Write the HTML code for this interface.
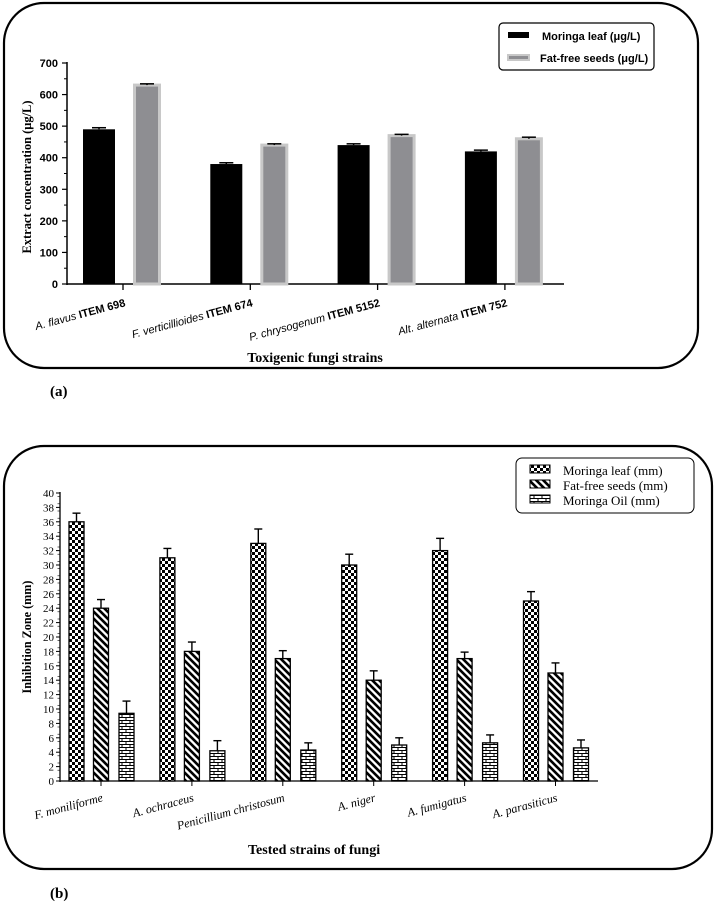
<!DOCTYPE html>
<html><head><meta charset="utf-8"><style>
body{margin:0;background:#fff}
svg{display:block}
text{font-family:"Liberation Serif",serif}
.sans{font-family:"Liberation Sans",sans-serif}
</style></head><body>
<svg id="s" width="716" height="902" viewBox="0 0 716 902">
<defs>
<pattern id="chk" width="6" height="6" patternUnits="userSpaceOnUse"><rect width="6" height="6" fill="#fff"/><rect width="3" height="3" fill="#000"/><rect x="3" y="3" width="3" height="3" fill="#000"/></pattern>
<pattern id="diag" width="7" height="7" patternUnits="userSpaceOnUse"><rect width="7" height="7" fill="#fff"/><path d="M-2,-2 L9,9 M-2,5 L2,9 M5,-2 L9,2" stroke="#000" stroke-width="2.6"/></pattern>
<pattern id="brick" width="8" height="6" patternUnits="userSpaceOnUse"><rect width="8" height="6" fill="#fff"/><path d="M0,0.5H8M0,3.5H8M2,0V3M6,3V6" stroke="#000" stroke-width="1"/></pattern>
</defs>
<rect x="4" y="3" width="694" height="365" rx="40" fill="none" stroke="#000" stroke-width="2.2"/>
<rect x="4" y="446" width="708" height="423" rx="40" fill="none" stroke="#000" stroke-width="2.2"/>
<text x="50" y="396" font-size="15" font-weight="bold">(a)</text>
<text x="50" y="898" font-size="15" font-weight="bold">(b)</text>
<g id="ga"></g><g id="gb"></g>
</svg>
<script>
const catsA=["A. flavus","F. verticillioides","P. chrysogenum","Alt. alternata"];
const itemsA=["ITEM 698","ITEM 674","ITEM 5152","ITEM 752"];
const leafA=[490,380,440,420];
const leafErrA=[5,4,4,4];
const seedA=[630,440,470,460];
const seedErrA=[4,4,4,5];
const ticksA=[0,100,200,300,400,500,600,700];

const catsB=["F. moniliforme","A. ochraceus","Penicillium christosum","A. niger","A. fumigatus","A. parasiticus"];
const leafB=[36,31,33,30,32,25];
const leafErrB=[1.2,1.3,2,1.5,1.7,1.3];
const seedB=[24,18,17,14,17,15];
const seedErrB=[1.2,1.3,1.1,1.3,0.9,1.4];
const oilB=[9.4,4.2,4.3,5,5.3,4.6];
const oilErrB=[1.7,1.4,1.0,1.0,1.1,1.1];
const ticksB=[0,2,4,6,8,10,12,14,16,18,20,22,24,26,28,30,32,34,36,38,40];

const NS="http://www.w3.org/2000/svg";
function mk(p,t,a,txt){const e=document.createElementNS(NS,t);for(const k in a)e.setAttribute(k,a[k]);if(txt!==undefined)e.textContent=txt;p.appendChild(e);return e;}

// Panel A
const ga=document.getElementById('ga');
const yA=v=>284-v*(221/700);
const xA=i=>123+i*127.3;
let el;
el=mk(ga,'line',{x1:67,y1:62,x2:67,y2:285,stroke:'#000','stroke-width':1.5});

el=mk(ga,'line',{x1:67,y1:284,x2:564,y2:284,stroke:'#000','stroke-width':1.5});

for(let k=0;k<ticksA.length;k++){const v=ticksA[k];
 mk(ga,'line',{x1:62,y1:yA(v),x2:67,y2:yA(v),stroke:'#000','stroke-width':1.2});
 if(k<ticksA.length-1)mk(ga,'line',{x1:64,y1:yA(v+50),x2:67,y2:yA(v+50),stroke:'#000','stroke-width':1});
 el=mk(ga,'text',{x:58,y:yA(v)+4,'font-size':11,'text-anchor':'end','font-weight':'bold',class:'sans'},String(v));
 }
for(let i=0;i<catsA.length;i++){const c=xA(i);
 mk(ga,'line',{x1:c,y1:284,x2:c,y2:290,stroke:'#000','stroke-width':1.3});
 el=mk(ga,'rect',{x:c-40,y:yA(leafA[i]),width:32,height:284-yA(leafA[i]),fill:'#000'});
 
 mk(ga,'line',{x1:c-24,y1:yA(leafA[i]),x2:c-24,y2:yA(leafA[i]+leafErrA[i]),stroke:'#000','stroke-width':1.5});
 mk(ga,'line',{x1:c-31,y1:yA(leafA[i]+leafErrA[i]),x2:c-17,y2:yA(leafA[i]+leafErrA[i]),stroke:'#000','stroke-width':1.5});
 el=mk(ga,'rect',{x:c+11.5,y:yA(seedA[i]),width:25,height:284-yA(seedA[i]),fill:'#8e8e92',stroke:'#c8c8c8','stroke-width':3});
 
 mk(ga,'line',{x1:c+24,y1:yA(seedA[i]),x2:c+24,y2:yA(seedA[i]+seedErrA[i]),stroke:'#000','stroke-width':1.5});
 mk(ga,'line',{x1:c+17,y1:yA(seedA[i]+seedErrA[i]),x2:c+31,y2:yA(seedA[i]+seedErrA[i]),stroke:'#000','stroke-width':1.5});
 const t=mk(ga,'text',{transform:`translate(${c+3},${306}) rotate(-15)`,'font-size':11,'text-anchor':'end',class:'sans'});
 
 mk(t,'tspan',{'font-style':'italic'},catsA[i]+' ');mk(t,'tspan',{'font-weight':'bold'},itemsA[i]);}
el=mk(ga,'text',{transform:'translate(31,177) rotate(-90)','font-size':13,'font-weight':'bold','text-anchor':'middle',textLength:153,lengthAdjust:'spacingAndGlyphs'},'Extract concentration (μg/L)');

el=mk(ga,'text',{x:315,y:362,'font-size':14,'font-weight':'bold','text-anchor':'middle'},'Toxigenic fungi strains');

el=mk(ga,'rect',{x:499,y:23,width:155,height:47,rx:4,fill:'#fff',stroke:'#000','stroke-width':1.2});

mk(ga,'rect',{x:508,y:32,width:21,height:6,fill:'#000'});
mk(ga,'rect',{x:508,y:55,width:21,height:5,fill:'#8e8e92',stroke:'#c8c8c8','stroke-width':2});
el=mk(ga,'text',{x:542,y:40,'font-size':11,'font-weight':'bold',class:'sans'},'Moringa leaf (μg/L)');

el=mk(ga,'text',{x:540,y:62,'font-size':11,'font-weight':'bold',class:'sans'},'Fat-free seeds (μg/L)');


// Panel B
const gb=document.getElementById('gb');
const yB=v=>781-v*(288/40);
const xB=i=>76.5+i*90.9;
el=mk(gb,'line',{x1:60,y1:492,x2:60,y2:782,stroke:'#000','stroke-width':1.3});

el=mk(gb,'line',{x1:60,y1:781,x2:598,y2:781,stroke:'#000','stroke-width':1.3});

for(let v=0;v<40;v++)mk(gb,'line',{x1:57.5,y1:yB(v+0.5),x2:60,y2:yB(v+0.5),stroke:'#000','stroke-width':0.6});
for(const v of ticksB){mk(gb,'line',{x1:56,y1:yB(v),x2:60,y2:yB(v),stroke:'#000','stroke-width':1});
 el=mk(gb,'text',{x:54,y:yB(v)+4,'font-size':11,'text-anchor':'end'},String(v));
 }
const series=[[leafB,leafErrB,'chk',0,'b-bar-leaf'],[seedB,seedErrB,'diag',24.5,'b-bar-seeds'],[oilB,oilErrB,'brick',50,'b-bar-oil']];
for(let i=0;i<catsB.length;i++){const c=xB(i);
 mk(gb,'line',{x1:c+24.5,y1:781,x2:c+24.5,y2:786,stroke:'#000','stroke-width':1});
 for(const s of series){const v=s[0][i],e=s[1][i],cx=c+s[3];
  el=mk(gb,'rect',{x:cx-7.5,y:yB(v),width:15,height:781-yB(v),fill:`url(#${s[2]})`,stroke:'#000','stroke-width':1.3});
  
  mk(gb,'line',{x1:cx,y1:yB(v),x2:cx,y2:yB(v+e),stroke:'#000','stroke-width':1.4});
  mk(gb,'line',{x1:cx-4,y1:yB(v+e),x2:cx+4,y2:yB(v+e),stroke:'#000','stroke-width':1.4});}
 el=mk(gb,'text',{transform:`translate(${c+27},${801}) rotate(-15)`,'font-size':12,'font-style':'italic','text-anchor':'end'},catsB[i]);
 }
el=mk(gb,'text',{transform:'translate(31,637) rotate(-90)','font-size':13,'font-weight':'bold','text-anchor':'middle',textLength:113,lengthAdjust:'spacingAndGlyphs'},'Inhibition Zone (mm)');

el=mk(gb,'text',{x:248,y:854,'font-size':14,'font-weight':'bold'},'Tested strains of fungi');

el=mk(gb,'rect',{x:516,y:458,width:178,height:55,rx:6,fill:'#fff',stroke:'#000','stroke-width':1});

const lg=[['chk','Moringa leaf (mm)'],['diag','Fat-free seeds (mm)'],['brick','Moringa Oil (mm)']];
for(let k=0;k<3;k++){const y=465+k*15;
 mk(gb,'rect',{x:530,y:y,width:20,height:8,fill:`url(#${lg[k][0]})`,stroke:'#000','stroke-width':1});
 el=mk(gb,'text',{x:563,y:y+10,'font-size':13},lg[k][1]);
 }
</script>
</body></html>
